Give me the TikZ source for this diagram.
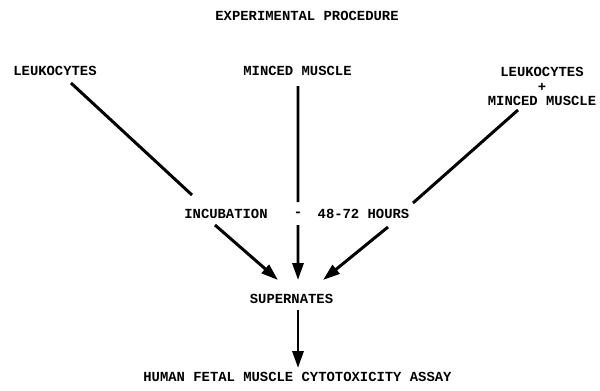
\documentclass[tikz,border=0pt]{standalone}
\usepackage{fontspec}
\setmonofont{Liberation Mono}
\usetikzlibrary{arrows.meta}

\begin{document}
\begin{tikzpicture}[x=0.02cm,y=-0.02cm,
    lbl/.style={inner sep=0pt,outer sep=0pt,
        font=\ttfamily\bfseries\fontsize{7.9}{8.4}\selectfont},
    link/.style={line width=1.7pt},
    flow/.style={link,-{Triangle[length=3.4mm,width=2.2mm]}}]

\useasboundingbox (0,0) rectangle (600,390);

% Title
\node[lbl] (title) at (307,16) {EXPERIMENTAL PROCEDURE};

% Starting material
\node[lbl] (leuk) at (55,71) {LEUKOCYTES};
\node[lbl] (minced) at (297.5,71) {MINCED MUSCLE};
\node[lbl,align=center] (mix) at (542,86.5) {LEUKOCYTES\\+\\MINCED MUSCLE};

% Incubation row
\node[lbl] (incub) at (226,214) {INCUBATION};
\node[lbl] (dash) at (298,214) {-};
\node[lbl] (hours) at (363.5,214) {48-72 HOURS};

% Results
\node[lbl] (super) at (291.5,299) {SUPERNATES};
\node[lbl] (assay) at (297.5,377) {HUMAN FETAL MUSCLE CYTOTOXICITY ASSAY};

% lines into incubation
\draw[link] ([shift={(16,12)}]leuk.center) -- ([shift={(-34,-19)}]incub.center);
\draw[link] ([shift={(0.5,15)}]minced.center) -- ([shift={(0,-12)}]dash.center);
\draw[link] ([shift={(-24,23.5)}]mix.center) -- ([shift={(49.5,-11)}]hours.center);

%arrows to supernates
\draw[flow] ([shift={(-11,11)}]incub.center) -- ([shift={(-13.5,-19)}]super.center);
\draw[flow] ([shift={(0,11)}]dash.center) -- ([shift={(6.5,-19)}]super.center);
\draw[flow] ([shift={(24.5,13)}]hours.center) -- ([shift={(31.5,-19)}]super.center);

\draw[flow] ([shift={(6.5,11)}]super.center) -- ([shift={(0.5,-9)}]assay.center);

\end{tikzpicture}
\end{document}
